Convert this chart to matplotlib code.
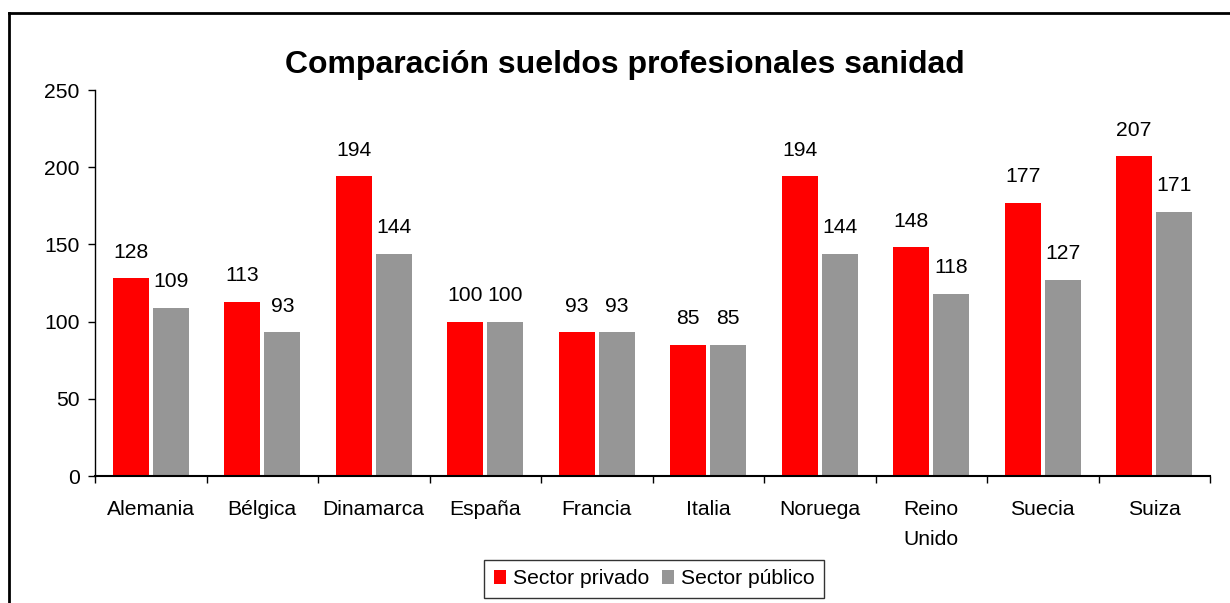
import numpy as np
import matplotlib
matplotlib.use("Agg")
import matplotlib.pyplot as plt
from matplotlib.lines import Line2D

plt.rcParams["font.family"] = ["Liberation Sans", "DejaVu Sans"]

countries = ["Alemania", "Bélgica", "Dinamarca", "España", "Francia",
             "Italia", "Noruega", "Reino\nUnido", "Suecia", "Suiza"]
privado = [128, 113, 194, 100, 93, 85, 194, 148, 177, 207]
publico = [109, 93, 144, 100, 93, 85, 144, 118, 127, 171]

W, H = 1230, 603
fs = 15.2
fig = plt.figure(figsize=(W / 100, H / 100), dpi=100)
ax = fig.add_axes([95 / W, 1 - 476 / H, (1210 - 95) / W, (476 - 90) / H])

x = np.arange(len(countries))
bw = 0.323
off = 0.18
b1 = ax.bar(x - off, privado, bw, color="#ff0000", label="Sector privado")
b2 = ax.bar(x + off, publico, bw, color="#969696", label="Sector público")

for bars, vals in ((b1, privado), (b2, publico)):
    for rect, v in zip(bars, vals):
        ax.annotate(str(v), (rect.get_x() + rect.get_width() / 2, v),
                    xytext=(0, 15), textcoords="offset points",
                    ha="center", va="baseline", fontsize=fs)

ax.set_xlim(-0.5, len(countries) - 0.5)
ax.set_ylim(0, 250)
ax.set_yticks(range(0, 251, 50))
ax.set_xticks(np.arange(len(countries) + 1) - 0.5)
ax.set_xticklabels([])
ax.set_xticks(x, minor=True)
ax.set_xticklabels(countries, minor=True, fontsize=fs, linespacing=1.75)
ax.tick_params(axis="x", which="minor", length=0, pad=17)
ax.tick_params(axis="x", which="major", length=5, width=1, direction="out")
ax.tick_params(axis="y", length=5, width=1, labelsize=fs, pad=6)
for side in ("top", "right"):
    ax.spines[side].set_visible(False)
ax.spines["left"].set_linewidth(1)
ax.spines["bottom"].set_linewidth(1.5)

fig.text(625 / W, 1 - 65 / H, "Comparación sueldos profesionales sanidad",
         ha="center", va="center", fontsize=23, fontweight="bold")

leg = fig.legend(handles=[b1, b2], loc="center", bbox_to_anchor=(654 / W, 1 - 579 / H),
                 ncol=2, fontsize=fs, frameon=True, fancybox=False,
                 handlelength=0.6, handleheight=0.6, handletextpad=0.3,
                 columnspacing=0.6, borderpad=0.45, borderaxespad=0)
leg.get_frame().set_edgecolor("black")
leg.get_frame().set_linewidth(1)

fig.add_artist(Line2D([9 / W, 9 / W], [0, 1 - 13 / H], transform=fig.transFigure,
                      color="black", lw=2))
fig.add_artist(Line2D([9 / W, 1], [1 - 13 / H, 1 - 13 / H], transform=fig.transFigure,
                      color="black", lw=2))

fig.savefig("out.png", dpi=100)
